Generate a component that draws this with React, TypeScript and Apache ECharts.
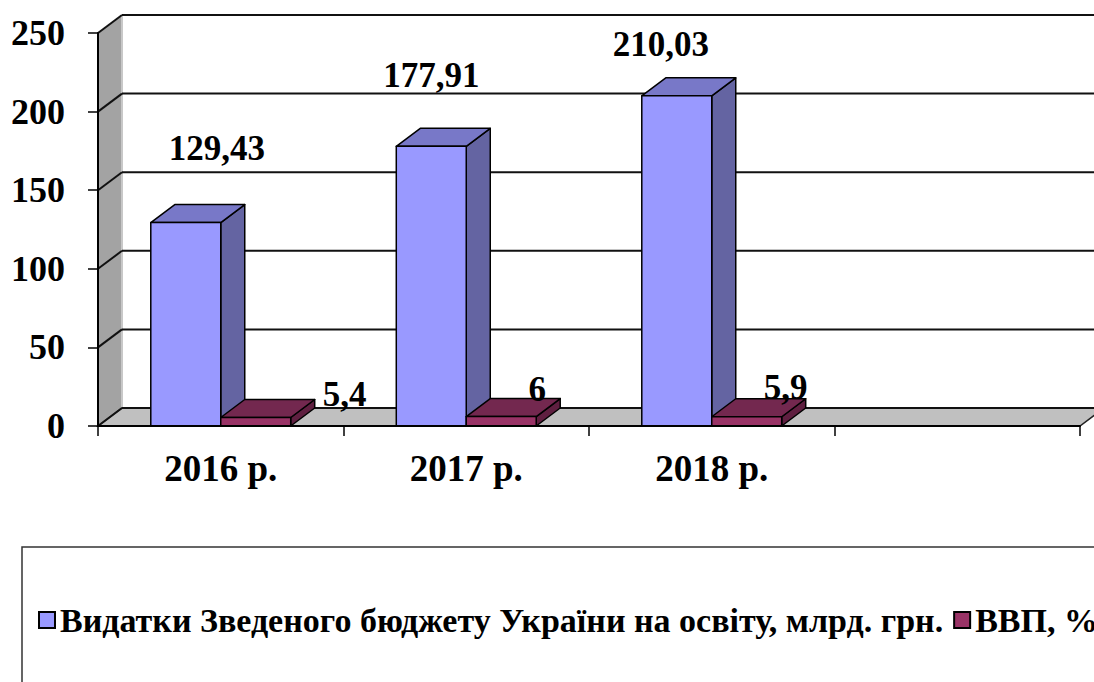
import React, { useEffect, useRef } from "react";
import * as echarts from "echarts";

const categories = ["2016 р.", "2017 р.", "2018 р.", ""];
const spendingValues = [129.43, 177.91, 210.03];
const gdpShareValues = [5.4, 6, 5.9];
const yTicks = [0, 50, 100, 150, 200, 250];
const seriesNames = [
  "Видатки Зведеного бюджету України на освіту, млрд. грн.",
  "ВВП, %",
];

// label nudges (px) relative to the top-back centre of each bar
const spendingLabelNudge = [[19, -56], [-12, -53], [-28, -33]];
const gdpLabelNudge = [[77, -5], [24, -9], [27, -11]];

const DX = 24;
const DY = -18;
const BAR_FRAC = 0.285;
const FONT = '"Liberation Serif", "Times New Roman", serif';

const fmt = (v: number) => String(v).replace(".", ",");

function makeBarRender(side: number, colors: { front: string; top: string; side: string }, nudges: number[][]) {
  return (params: any, api: any) => {
    const i = api.value(0);
    const v = api.value(1);
    const base = api.coord([i, 0]);
    const top = api.coord([i, v]);
    const band = api.size([1, 0])[0];
    const w = band * BAR_FRAC;
    const x0 = side === 0 ? base[0] - w : base[0];
    const x1 = x0 + w;
    const yb = base[1];
    const yt = top[1];
    const stroke = { stroke: "#000", lineWidth: 1.5, lineJoin: "round" };
    const nd = nudges[params.dataIndex] || [0, 0];
    const lx = (x0 + x1) / 2 + DX / 2 + nd[0];
    const ly = yt + DY + nd[1];
    return {
      type: "group",
      children: [
        {
          type: "polygon",
          shape: { points: [[x1, yb], [x1 + DX, yb + DY], [x1 + DX, yt + DY], [x1, yt]] },
          style: { fill: colors.side, ...stroke },
        },
        {
          type: "polygon",
          shape: { points: [[x0, yt], [x1, yt], [x1 + DX, yt + DY], [x0 + DX, yt + DY]] },
          style: { fill: colors.top, ...stroke },
        },
        {
          type: "polygon",
          shape: { points: [[x0, yb], [x1, yb], [x1, yt], [x0, yt]] },
          style: { fill: colors.front, ...stroke },
        },
        {
          type: "text",
          x: lx,
          y: ly,
          style: {
            text: fmt(v),
            fontFamily: FONT,
            fontWeight: "bold",
            fontSize: 35,
            fill: "#000",
            align: "center",
            verticalAlign: "middle",
            textAlign: "center",
            textVerticalAlign: "middle",
          },
        },
      ],
    };
  };
}

const wallsRender = (params: any, api: any) => {
  const cs = params.coordSys;
  const left = cs.x;
  const right = cs.x + cs.width;
  const yTop = cs.y;
  const yBot = cs.y + cs.height;
  const v = api.value(1);
  const y = api.coord([0, v])[1];
  const children: any[] = [];
  if (params.dataIndex === 0) {
    children.push({
      type: "polygon",
      shape: { points: [[left, yBot], [left, yTop], [left + DX, yTop + DY], [left + DX, yBot + DY]] },
      style: { fill: "#A3A3A3", stroke: "none" },
    });
    children.push({
      type: "line",
      shape: { x1: left + DX, y1: yTop + DY, x2: left + DX, y2: yBot + DY },
      style: { stroke: "#C8C8C8", lineWidth: 2 },
    });
    children.push({
      type: "polygon",
      shape: { points: [[left, yBot], [left + DX, yBot + DY], [right + DX, yBot + DY], [right, yBot]] },
      style: { fill: "#C0C0C0", stroke: "#222", lineWidth: 1.5 },
    });
  }
  children.push({
    type: "line",
    shape: { x1: left + DX, y1: y + DY, x2: right + DX + 40, y2: y + DY },
    style: { stroke: "#111", lineWidth: 2 },
  });
  children.push({
    type: "line",
    shape: { x1: left, y1: y, x2: left + DX, y2: y + DY },
    style: { stroke: "#111", lineWidth: 2 },
  });
  return { type: "group", children };
};

export default function App() {
  const ref = useRef<HTMLDivElement>(null);
  useEffect(() => {
    if (!ref.current) return;
    const chart = echarts.init(ref.current, null, { renderer: "svg" });
    chart.setOption({
      animation: false,
      backgroundColor: "#fff",
      grid: { left: 98, right: 14, top: 33, bottom: 256, containLabel: false },
      xAxis: {
        type: "category",
        data: categories,
        boundaryGap: true,
        z: 10,
        axisLine: { show: true, lineStyle: { color: "#000", width: 2 } },
        axisTick: { show: true, length: 10, alignWithLabel: false, interval: 0, lineStyle: { color: "#000", width: 1.5 } },
        axisLabel: {
          interval: 0,
          fontFamily: FONT,
          fontWeight: "bold",
          fontSize: 37,
          color: "#000",
          margin: 24,
        },
        splitLine: { show: false },
      },
      yAxis: {
        type: "value",
        min: 0,
        max: 250,
        interval: 50,
        z: 10,
        axisLine: { show: true, lineStyle: { color: "#000", width: 2 } },
        axisTick: { show: true, length: 10, lineStyle: { color: "#000", width: 1.5 } },
        splitLine: { show: false },
        axisLabel: {
          fontFamily: FONT,
          fontWeight: "bold",
          fontSize: 36,
          color: "#000",
          margin: 33,
        },
      },
      legend: {
        data: seriesNames,
        left: 33,
        top: 598,
        width: 2000,
        selectedMode: false,
        icon: "rect",
        itemWidth: 16,
        itemHeight: 16,
        itemGap: 10,
        itemStyle: { borderColor: "#000", borderWidth: 2 },
        textStyle: { fontFamily: FONT, fontWeight: "bold", fontSize: 34, color: "#000" },
      },
      graphic: [
        {
          type: "rect",
          shape: { x: 22, y: 547, width: 1200, height: 300 },
          style: { fill: "none", stroke: "#333", lineWidth: 1.5 },
          silent: true,
        },
      ],
      series: [
        {
          type: "custom",
          name: "walls",
          z: 1,
          clip: false,
          silent: true,
          data: yTicks.map((t) => [0, t]),
          renderItem: wallsRender,
        },
        {
          type: "custom",
          name: seriesNames[0],
          z: 3,
          clip: false,
          itemStyle: { color: "#9999FF" },
          data: spendingValues.map((v, i) => [i, v]),
          renderItem: makeBarRender(0, { front: "#9999FF", top: "#7878C8", side: "#6464A2" }, spendingLabelNudge),
        },
        {
          type: "custom",
          name: seriesNames[1],
          z: 4,
          clip: false,
          itemStyle: { color: "#993366" },
          data: gdpShareValues.map((v, i) => [i, v]),
          renderItem: makeBarRender(1, { front: "#993366", top: "#73284F", side: "#5F1F40" }, gdpLabelNudge),
        },
      ],
    });
    return () => chart.dispose();
  }, []);
  return <div ref={ref} style={{ position: "fixed", left: 0, top: 0, width: 1094, height: 682 }} />;
}
